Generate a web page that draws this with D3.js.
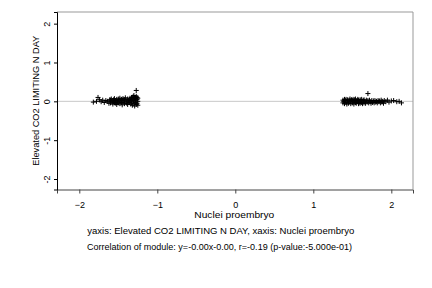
<!DOCTYPE html>
<html><head><meta charset="utf-8">
<script src="https://cdn.jsdelivr.net/npm/d3@7"></script>
<style>body{margin:0;background:#fff}svg{display:block}text{font-family:"Liberation Sans",Arial,sans-serif}</style>
</head><body>
<script>
const xTicks = [-2, -1, 0, 1, 2];
const yTicks = [-2, -1, 0, 1, 2];
const xLabel = "Nuclei proembryo";
const yLabel = "Elevated CO2 LIMITING N DAY";
const caption1 = "yaxis: Elevated CO2 LIMITING N DAY, xaxis: Nuclei proembryo";
const caption2 = "Correlation of module: y=-0.00x-0.00, r=-0.19 (p-value:-5.000e-01)";
const clusterLeft = [
[-1.82,-0.02],[-1.78,0.0],[-1.76,0.1],[-1.74,0.04],[-1.72,-0.01],[-1.70,0.03],[-1.68,-0.03],[-1.66,0.02],[-1.64,0.0],[-1.62,-0.05],[-1.61,0.04],
[-1.60,0.03],[-1.60,-0.04],[-1.59,0.06],[-1.58,-0.02],[-1.58,0.01],[-1.57,-0.07],[-1.56,0.04],[-1.56,-0.01],[-1.55,0.07],[-1.54,-0.05],[-1.54,0.02],
[-1.53,-0.03],[-1.52,0.05],[-1.52,-0.08],[-1.51,0.0],[-1.50,0.06],[-1.50,-0.04],[-1.49,0.03],[-1.48,-0.06],[-1.48,0.08],[-1.47,0.01],[-1.46,-0.03],
[-1.46,0.05],[-1.45,-0.09],[-1.44,0.02],[-1.44,0.07],[-1.43,-0.02],[-1.42,0.04],[-1.42,-0.06],[-1.41,0.09],[-1.40,-0.01],[-1.40,0.03],[-1.39,-0.05],
[-1.38,0.06],[-1.38,-0.08],[-1.37,0.01],[-1.36,0.05],[-1.36,-0.03],[-1.35,0.08],[-1.34,-0.07],[-1.34,0.02],[-1.33,0.1],[-1.33,-0.04],[-1.32,0.06],
[-1.32,-0.1],[-1.31,0.0],[-1.31,0.12],[-1.30,-0.06],[-1.30,0.04],[-1.29,0.09],[-1.29,-0.12],[-1.28,0.02],[-1.28,-0.03],[-1.27,0.13],[-1.27,-0.08],
[-1.27,0.28],[-1.26,0.05],[-1.26,-0.05],[-1.25,0.0],[-1.25,0.08],[-1.25,-0.1],[-1.26,0.1],[-1.28,0.07],[-1.30,0.15],[-1.35,-0.02],[-1.45,0.03],[-1.55,-0.03]
];
const clusterRight = [
[1.38,0.03],[1.38,-0.04],[1.39,0.0],[1.40,0.05],[1.40,-0.06],[1.41,0.02],[1.42,-0.03],[1.42,0.05],[1.43,-0.07],[1.44,0.01],[1.44,0.04],[1.45,-0.05],
[1.46,0.03],[1.46,-0.02],[1.47,0.06],[1.48,-0.06],[1.48,0.01],[1.49,0.04],[1.50,-0.04],[1.50,0.02],[1.51,0.05],[1.52,-0.07],[1.52,0.0],[1.53,0.04],
[1.54,-0.03],[1.54,0.06],[1.55,-0.05],[1.56,0.02],[1.56,-0.01],[1.57,0.05],[1.58,-0.06],[1.58,0.03],[1.59,-0.02],[1.60,0.04],[1.60,-0.05],[1.61,0.01],
[1.62,0.05],[1.62,-0.03],[1.63,-0.06],[1.64,0.02],[1.65,0.04],[1.65,-0.04],[1.66,0.0],[1.67,-0.05],[1.68,0.03],[1.69,-0.02],[1.70,0.2],[1.70,0.02],
[1.71,-0.04],[1.72,0.03],[1.73,-0.01],[1.74,-0.05],[1.75,0.02],[1.76,-0.03],[1.77,0.01],[1.78,-0.04],[1.79,0.02],[1.80,-0.02],[1.81,0.0],[1.82,-0.04],
[1.83,0.02],[1.84,-0.01],[1.85,0.01],[1.86,-0.04],[1.87,0.03],[1.88,-0.02],[1.89,0.0],[1.90,-0.05],[1.91,0.02],[1.93,-0.01],[1.95,0.03],[1.97,-0.02],
[2.00,0.01],[2.03,0.02],[2.07,-0.01],[2.10,0.0],[2.13,-0.04]
];

const W = 432, H = 288;
const svg = d3.select("body").append("svg").attr("width", W).attr("height", H);
const L = 57, R = 413, T = 12, B = 189.5;
const x = d3.scaleLinear().domain([-2.286, 2.278]).range([L, R]);
const y = d3.scaleLinear().domain([-2.27, 2.30]).range([B, T]);

svg.append("line").attr("x1", L).attr("x2", R).attr("y1", y(0)).attr("y2", y(0))
  .attr("stroke", "#c8c8c8").attr("stroke-width", 1);

const pts = clusterLeft.concat(clusterRight);
svg.append("g").selectAll("path").data(pts).join("path")
  .attr("transform", d => `translate(${x(d[0])},${y(d[1])})`)
  .attr("d", "M-2.5,0H2.5M0,-2.5V2.5")
  .attr("stroke", "#000").attr("stroke-width", 1).attr("fill", "none");

svg.append("line").attr("x1", L).attr("x2", R).attr("y1", T).attr("y2", T).attr("stroke", "#999");
svg.append("line").attr("x1", R).attr("x2", R).attr("y1", T).attr("y2", B).attr("stroke", "#999");

const xAxis = svg.append("g").attr("transform", `translate(0,${B})`)
  .call(d3.axisBottom(x).tickValues(xTicks).tickSize(4).tickFormat(d3.format("d")));
xAxis.select(".domain").attr("stroke", "#444");
xAxis.selectAll("line").attr("stroke", "#444");
xAxis.selectAll("text").attr("font-size", 9).attr("fill", "#000").attr("dy", null).attr("y", 18);

const yAxis = svg.append("g").attr("transform", `translate(${L},0)`)
  .call(d3.axisLeft(y).tickValues(yTicks).tickSize(3).tickFormat(d3.format("d")));
yAxis.select(".domain").attr("stroke", "#000");
yAxis.selectAll("line").attr("stroke", "#000");
yAxis.selectAll("text").remove();
yAxis.selectAll(".tick").append("text")
  .attr("transform", "translate(-7.5,0) rotate(-90)")
  .attr("text-anchor", "middle")
  .attr("font-size", 9).attr("fill", "#000").text(d => d);

svg.append("text").attr("x", 234.3).attr("y", 218).attr("text-anchor", "middle")
  .attr("font-size", 9.5).attr("textLength", 80).attr("lengthAdjust", "spacingAndGlyphs").text(xLabel);
svg.append("text").attr("transform", `translate(38.5,${(T + B) / 2}) rotate(-90)`)
  .attr("text-anchor", "middle").attr("font-size", 9.5)
  .attr("textLength", 130).attr("lengthAdjust", "spacingAndGlyphs").text(yLabel);
svg.append("text").attr("x", 220.7).attr("y", 233.5).attr("text-anchor", "middle")
  .attr("font-size", 9.5).attr("textLength", 267).attr("lengthAdjust", "spacingAndGlyphs").text(caption1);
svg.append("text").attr("x", 219.5).attr("y", 249.5).attr("text-anchor", "middle")
  .attr("font-size", 9.5).attr("textLength", 265).attr("lengthAdjust", "spacingAndGlyphs").text(caption2);
</script>
</body></html>
